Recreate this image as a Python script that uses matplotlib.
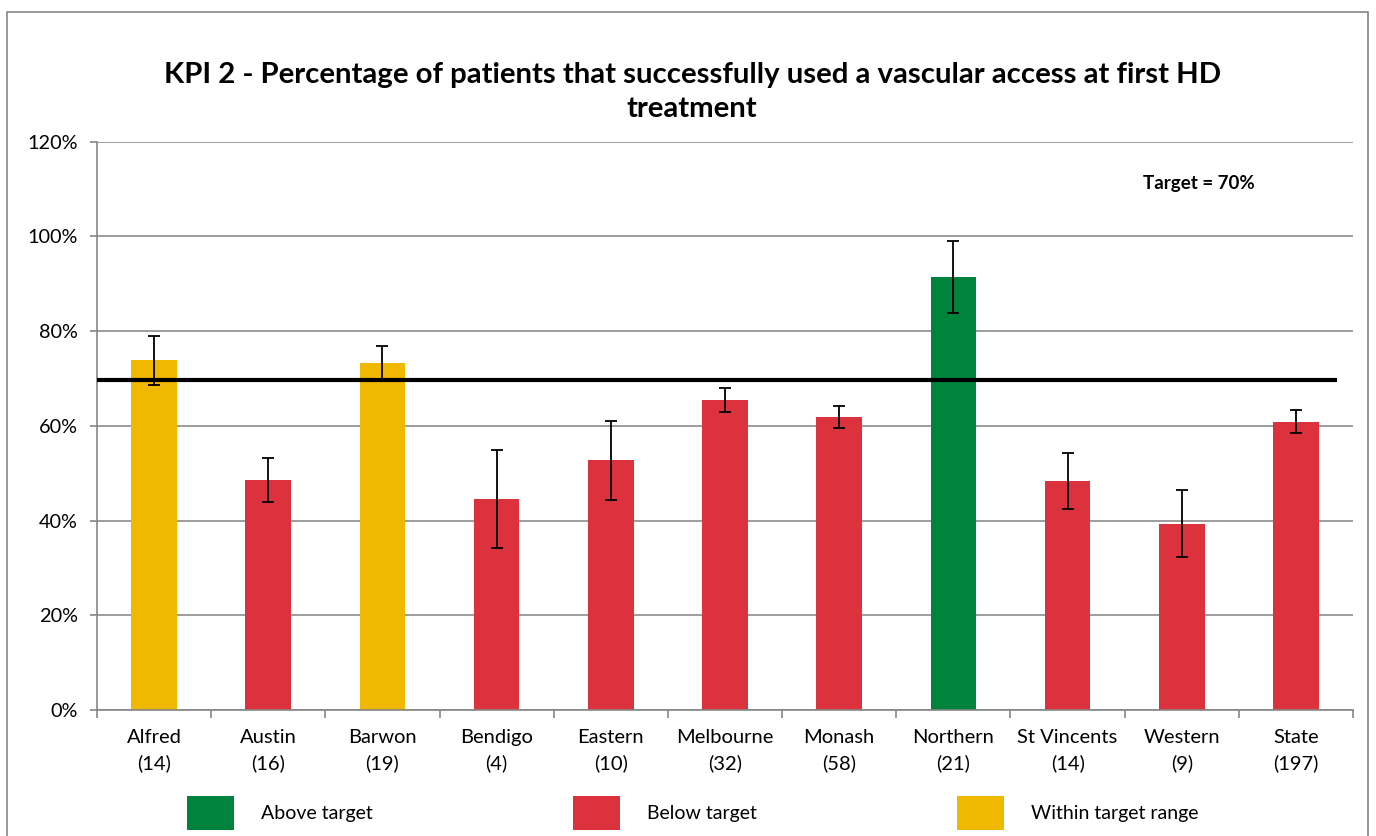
import numpy as np
import matplotlib.pyplot as plt
from matplotlib.patches import Patch, Rectangle

plt.rcParams['font.family'] = ['Lato', 'DejaVu Sans']

units = ["Alfred", "Austin", "Barwon", "Bendigo", "Eastern", "Melbourne",
         "Monash", "Northern", "St Vincents", "Western", "State"]
counts = [14, 16, 19, 4, 10, 32, 58, 21, 14, 9, 197]
values = [73.9, 48.5, 73.2, 44.6, 52.8, 65.4, 61.8, 91.4, 48.3, 39.2, 60.8]
ci_low = [68.6, 43.9, 69.6, 34.2, 44.4, 62.9, 59.5, 83.9, 42.5, 32.3, 58.5]
ci_high = [78.9, 53.3, 76.8, 54.8, 61.1, 67.9, 64.2, 98.9, 54.3, 46.5, 63.3]
status = ["within", "below", "within", "below", "below", "below",
          "below", "above", "below", "below", "below"]
target = 69.6

colors = {"above": "#00843D", "below": "#DC323E", "within": "#F0B800"}
labels = {"above": "Above target", "below": "Below target", "within": "Within target range"}

fig = plt.figure(figsize=(13.76, 8.36), dpi=100)
ax = fig.add_axes([0.0705, 0.1507, 0.9128, 0.68])

x = np.arange(len(units))
vals = np.array(values)
yerr = [vals - np.array(ci_low), np.array(ci_high) - vals]
ax.bar(x, vals, width=0.4, color=[colors[s] for s in status], zorder=2)
ax.errorbar(x, vals, yerr=yerr, fmt='none', ecolor='black', elinewidth=1.3,
            capsize=4.5, capthick=1.3, zorder=3)
ax.plot([-0.5, 10.34], [target, target], color='black', lw=3, zorder=4)

ax.set_xlim(-0.5, len(units) - 0.5)
ax.set_ylim(0, 120)
ax.set_yticks(np.arange(0, 121, 20))
ax.set_yticklabels([f"{v}%" for v in range(0, 121, 20)], fontsize=14.3)
ax.set_xticks(x)
ax.set_xticklabels([f"{u}\n({c})" for u, c in zip(units, counts)], fontsize=14.5,
                   linespacing=1.55)
ax.set_xticks(np.arange(-0.5, len(units), 1), minor=True)
ax.tick_params(axis='x', which='major', length=0, pad=14)
ax.tick_params(axis='x', which='minor', length=6, color='#868686', width=1.2)
ax.tick_params(axis='y', length=5, color='#868686', width=1.2, pad=9)
ax.grid(axis='y', color='#8c8c8c', lw=1.2, zorder=0)
ax.set_axisbelow(True)
for s in ['top', 'right']:
    ax.spines[s].set_visible(False)
for s in ['left', 'bottom']:
    ax.spines[s].set_color('#868686')
    ax.spines[s].set_linewidth(1.2)

ax.text(8.66, 111.2, "Target = 70%", fontsize=13.5, fontweight='bold', va='center', ha='left')

fig.text(0.503, 1 - 92 / 836,
         "KPI 2 - Percentage of patients that successfully used a vascular access at first HD\ntreatment",
         ha='center', va='center', fontsize=21.2, fontweight='bold', linespacing=1.4)

handles = [Patch(facecolor=colors[k]) for k in ["above", "below", "within"]]
fig.legend(handles, [labels[k] for k in ["above", "below", "within"]], ncol=3,
           loc='center left', bbox_to_anchor=(188 / 1376 - 0.0135, 1 - 813 / 836),
           frameon=False, fontsize=14, handlelength=2.4, handleheight=2.3,
           handletextpad=1.4, columnspacing=10.3)

fig.patches.append(Rectangle((7 / 1376, -0.01), 1361 / 1376, 1 - 12 / 836 + 0.01,
                             transform=fig.transFigure, fill=False,
                             edgecolor='#868686', lw=1.2))

fig.savefig("out.png", dpi=100)
